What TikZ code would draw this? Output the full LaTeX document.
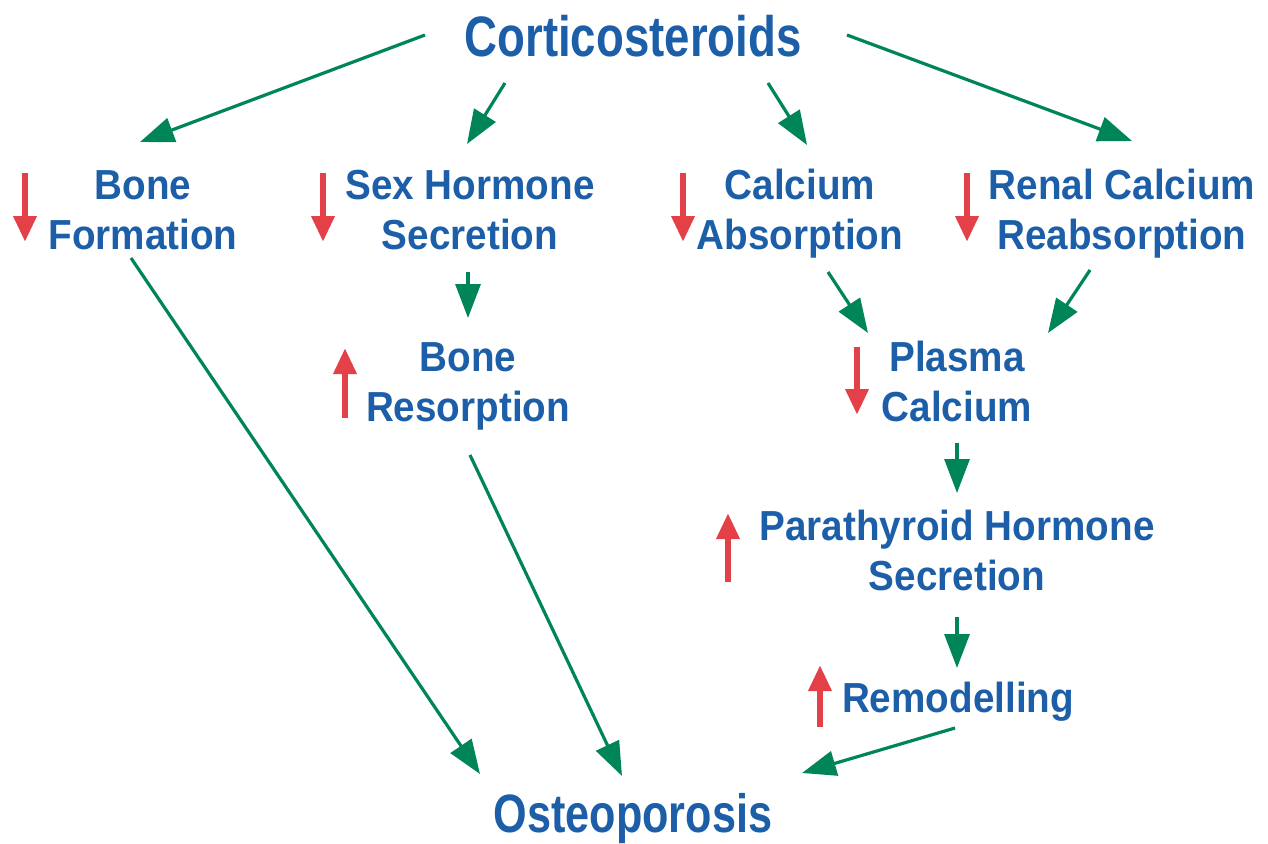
\documentclass[tikz,border=0pt]{standalone}
\usepackage{fontspec}
\usepackage{xcolor}
\usepackage{tikz}
\usetikzlibrary{arrows.meta, calc}
\newfontfamily\labelfont{Liberation Sans}[FakeStretch=0.92]
\newfontfamily\titlefont{Liberation Sans}[FakeStretch=0.8]
\definecolor{steroidblue}{RGB}{28, 94, 168}
\definecolor{pathgreen}{RGB}{0, 133, 88}
\definecolor{changered}{RGB}{228, 64, 72}

\begin{document}
\begin{tikzpicture}[
    x=1pt, y=-1pt,
    effect/.style={inner sep=0pt, align=center, text=steroidblue, font=\labelfont\bfseries\fontsize{42}{50}\selectfont},
    headline/.style={inner sep=0pt, align=center, text=steroidblue, font=\titlefont\bfseries\fontsize{#1}{60}\selectfont},
    flow/.style={draw=pathgreen, line width=3.2pt, -{Triangle[length=34pt, width=25pt]}},
    change/.style={draw=changered, line width=6.5pt, -{Triangle[length=26pt, width=22pt]}}
]
\useasboundingbox (0,0) rectangle (1268,843);

% Drug and outcome
\node[headline=57] (cort) at (633,36) {Corticosteroids};
\node[headline=54] (osteo) at (633,819) {Osteoporosis};

% First-level effects
\node[effect] (bform) at (143,210) {Bone\\Formation};
\node[effect] (sexh) at (470,210) {Sex Hormone\\Secretion};
\node[effect] (calab) at (800,214) {Calcium\\Absorption};
\node[effect] (renal) at (1122,214) {Renal Calcium\\Reabsorption};

% Downstream effects
\node[effect] (bres) at (468,386) {Bone\\Resorption};
\node[effect] (plasma) at (957,381) {Plasma\\Calcium};
\node[effect] (parat) at (957,550) {Parathyroid Hormone\\Secretion};
\node[effect] (remod) at (958,702) {Remodelling};

% Increase / decrease marks
\draw[change] (25,173) -- (25,242);
\draw[change] (323,173) -- (323,242);
\draw[change] (683,173) -- (683,242);
\draw[change] (967,173) -- (967,242);
\draw[change] (345,418) -- (345,348);
\draw[change] (857,347) -- (857,415);
\draw[change] (728,582) -- (728,513);
\draw[change] (820,727) -- (820,665);

% Arrows
\draw[flow] ($(cort)+(-208,-1)$) -- ($(bform)+(-3,-68)$);
\draw[flow] ($(cort)+(-128,47)$) -- ($(sexh)+(-3,-66)$);
\draw[flow] ($(cort)+(135,47)$) -- ($(calab)+(7,-69)$);
\draw[flow] ($(cort)+(214,-1)$) -- ($(renal)+(10,-73)$);
\draw[flow] ($(bform)+(-12,48)$) -- ($(osteo)+(-153,-45)$);
\draw[flow] ($(sexh)+(-2,62)$) -- ($(bres)+(0,-68)$);
\draw[flow] ($(bres)+(2,69)$) -- ($(osteo)+(-11,-43)$);
\draw[flow] ($(calab)+(28,58)$) -- ($(plasma)+(-89,-48)$);
\draw[flow] ($(renal)+(-32,56)$) -- ($(plasma)+(91,-48)$);
\draw[flow] ($(plasma)+(0,62)$) -- ($(parat)+(0,-57)$);
\draw[flow] ($(parat)+(0,67)$) -- ($(remod)+(-1,-34)$);
\draw[flow] ($(remod)+(-3,26)$) -- ($(osteo)+(169,-46)$);

\end{tikzpicture}
\end{document}
